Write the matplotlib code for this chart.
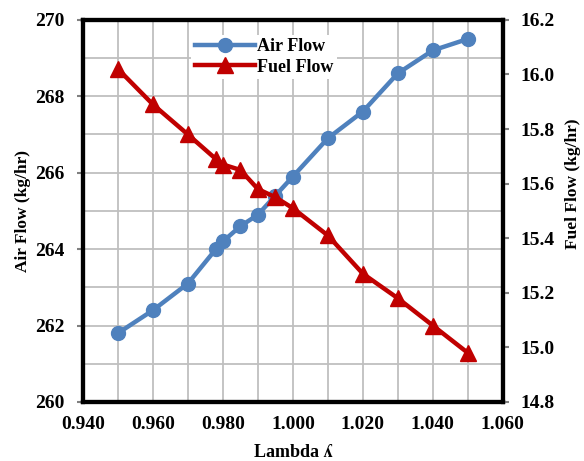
import matplotlib.pyplot as plt
from matplotlib.ticker import MultipleLocator

plt.rcParams['font.family'] = ['Liberation Serif', 'DejaVu Serif']
plt.rcParams['font.weight'] = 'bold'

# data
lam = [0.950, 0.960, 0.970, 0.978, 0.980, 0.985, 0.990, 0.995, 1.000, 1.010, 1.020, 1.030, 1.040, 1.050]
air_flow = [261.8, 262.4, 263.1, 264.0, 264.2, 264.6, 264.9, 265.4, 265.9, 266.9, 267.6, 268.6, 269.2, 269.5]
fuel_flow = [16.02, 15.89, 15.78, 15.69, 15.67, 15.65, 15.58, 15.55, 15.51, 15.41, 15.27, 15.18, 15.08, 14.98]

blue = '#4F81BD'
red = '#C00000'

fig = plt.figure(figsize=(5.84, 4.61), dpi=100)
ax = fig.add_axes([0.142, 0.128, 0.719, 0.829])
ax2 = ax.twinx()

# grid on primary axis
ax.set_xlim(0.940, 1.060)
ax.set_ylim(260, 270)
ax.xaxis.set_major_locator(MultipleLocator(0.02))
ax.xaxis.set_minor_locator(MultipleLocator(0.01))
ax.yaxis.set_major_locator(MultipleLocator(2))
ax.yaxis.set_minor_locator(MultipleLocator(1))
ax.grid(which='both', color='#BFBFBF', linewidth=1.3)
ax.set_axisbelow(True)

l1, = ax.plot(lam, air_flow, color=blue, lw=3.2, marker='o', markersize=10, label='Air Flow')
l2, = ax2.plot(lam, fuel_flow, color=red, lw=3.2, marker='^', markersize=11, label='Fuel Flow')

ax2.set_ylim(14.8, 16.2)
ax2.yaxis.set_major_locator(MultipleLocator(0.2))

ax.xaxis.set_major_formatter(plt.FormatStrFormatter('%.3f'))
ax2.yaxis.set_major_formatter(plt.FormatStrFormatter('%.1f'))

for a in (ax, ax2):
    for s in a.spines.values():
        s.set_linewidth(3)
    a.tick_params(axis='both', which='major', labelsize=14, length=4, width=1.5,
                  color='#808080', pad=9)
    a.tick_params(axis='both', which='minor', length=0)
ax.tick_params(axis='x', length=0, pad=10)

ax.set_xlabel('Lambda ʎ', fontsize=13, fontweight='bold', labelpad=8)
ax.set_ylabel('Air Flow (kg/hr)', fontsize=12.5, fontweight='bold')
ax.yaxis.set_label_coords(-0.124, 0.5)
ax2.set_ylabel('Fuel Flow (kg/hr)', fontsize=12.5, fontweight='bold')
ax2.yaxis.set_label_coords(1.148, 0.57)

leg = ax2.legend(handles=[l1, l2], loc='upper left', bbox_to_anchor=(0.237, 0.985),
                 fontsize=13, handlelength=3.3, handletextpad=0.15,
                 borderpad=0.2, labelspacing=0.2, frameon=True, fancybox=False)
leg.get_frame().set_facecolor('white')
leg.get_frame().set_edgecolor('none')
leg.get_frame().set_alpha(1)

fig.savefig('out.png', dpi=100)
